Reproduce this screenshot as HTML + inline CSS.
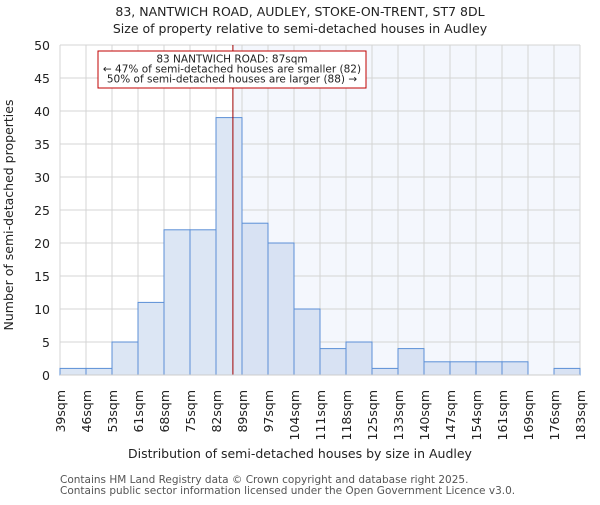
<!DOCTYPE html>
<html><head><meta charset="utf-8"><style>body{margin:0;background:#fff}svg{font-family:"DejaVu Sans","Liberation Sans",sans-serif}</style></head>
<body>
<svg id="c" width="600" height="500" xmlns="http://www.w3.org/2000/svg">
<text x="300" y="16" text-anchor="middle" font-size="12.5" fill="#222">83, NANTWICH ROAD, AUDLEY, STOKE-ON-TRENT, ST7 8DL</text>
<text x="300" y="33" text-anchor="middle" font-size="12.5" fill="#222">Size of property relative to semi-detached houses in Audley</text>
<g id="plot"></g>
<text x="300" y="458" text-anchor="middle" font-size="12.5" fill="#222">Distribution of semi-detached houses by size in Audley</text>
<text transform="translate(13,215) rotate(-90)" text-anchor="middle" font-size="12.5" fill="#222">Number of semi-detached properties</text>
<text x="60" y="483" font-size="10.5" fill="#555">Contains HM Land Registry data © Crown copyright and database right 2025.</text>
<text x="60" y="494" font-size="10.5" fill="#555">Contains public sector information licensed under the Open Government Licence v3.0.</text>
</svg>
<script>
const binLabels=["39sqm","46sqm","53sqm","61sqm","68sqm","75sqm","82sqm","89sqm","97sqm","104sqm","111sqm","118sqm","125sqm","133sqm","140sqm","147sqm","154sqm","161sqm","169sqm","176sqm","183sqm"];
const counts=[1,1,5,11,22,22,39,23,20,10,4,5,1,4,2,2,2,2,0,1];
const yTicks=[0,5,10,15,20,25,30,35,40,45,50];
const markerBinPos=[6.65];
const L=60,R=580,T=45,B=375,yMax=50;
const bw=(R-L)/counts.length;
const x=i=>L+i*bw, y=v=>B-(v/yMax)*(B-T);
const NS="http://www.w3.org/2000/svg",g=document.getElementById('plot');
function mk(t,a){const e=document.createElementNS(NS,t);for(const k in a)e.setAttribute(k,a[k]);g.appendChild(e);return e;}
const mx=x(markerBinPos[0]);
let e=mk('rect',{x:mx,y:T,width:R-mx,height:B-T,fill:'#f4f7fd'});


for(let i=0;i<=counts.length;i++){e=mk('line',{x1:x(i),x2:x(i),y1:T,y2:B,stroke:'#d4d4d4'});

}
yTicks.forEach(v=>{e=mk('line',{x1:L,x2:R,y1:y(v),y2:y(v),stroke:'#d4d4d4'});


e=mk('text',{x:L-10,y:y(v)+5,'text-anchor':'end','font-size':12.5,fill:'#222'});e.textContent=v;

});
counts.forEach((c,i)=>{if(c<=0)return;const right=x(i)>=mx-1;
e=mk('rect',{x:x(i),y:y(c),width:bw,height:B-y(c),fill:right?'#d8e2f3':'#dce6f4',stroke:'#5b8fd6','stroke-width':1});

});
binLabels.forEach((l,i)=>{e=mk('text',{transform:`translate(${x(i)+5},390) rotate(-90)`,'text-anchor':'end','font-size':12.5,fill:'#222'});e.textContent=l;

});
e=mk('line',{x1:mx,x2:mx,y1:T,y2:B,stroke:'#a00000','stroke-width':1});


e=mk('rect',{x:98,y:51,width:268,height:37,fill:'#fff',stroke:'#c00000','stroke-width':1});


["83 NANTWICH ROAD: 87sqm","← 47% of semi-detached houses are smaller (82)","50% of semi-detached houses are larger (88) →"].forEach((t,k)=>{e=mk('text',{x:232,y:62.5+k*10,'text-anchor':'middle','font-size':10.5,fill:'#222'});e.textContent=t;

});
e=mk('line',{x1:L,x2:R,y1:B,y2:B,stroke:'#ccc'});


</script>
</body></html>
